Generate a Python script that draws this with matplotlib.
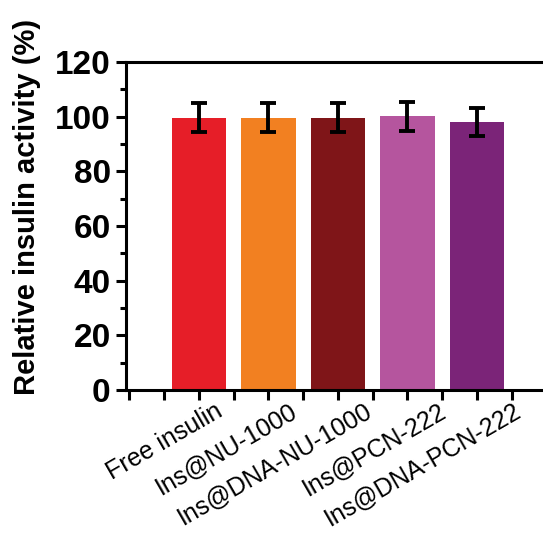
import numpy as np
import matplotlib.pyplot as plt
from matplotlib.ticker import MultipleLocator
import matplotlib.transforms as mtrans

plt.rcParams['font.family'] = ['Liberation Sans', 'DejaVu Sans']

groups = ["Free insulin", "Ins@NU-1000", "Ins@DNA-NU-1000", "Ins@PCN-222", "Ins@DNA-PCN-222"]
activity = [99.6, 99.6, 99.6, 100.1, 98.1]
errors = [5.3, 5.3, 5.3, 5.3, 5.2]
colors = ["#E61E28", "#F28021", "#7F1518", "#B5559E", "#7B2478"]

fig = plt.figure(figsize=(5.43, 5.35), dpi=100)
# the frame runs off the right edge of the picture (cropped figure)
ax = fig.add_axes([0.232, 0.271, 0.768, 0.613])

x = np.arange(1, len(groups) + 1)
ax.bar(x, activity, width=0.78, color=colors, edgecolor='none')
ax.errorbar(x, activity, yerr=errors, fmt='none', ecolor='black',
            elinewidth=2.8, capsize=5.5, capthick=2.8)

ax.set_xlim(-0.05, 5.95)
ax.set_ylim(0, 120)
ax.yaxis.set_major_locator(MultipleLocator(20))
ax.yaxis.set_minor_locator(MultipleLocator(10))
ax.set_xticks(x)
ax.set_xticks(np.arange(0, 5.6, 0.5), minor=True)

for s in ax.spines.values():
    s.set_linewidth(2.2)
ax.spines['right'].set_visible(False)

ax.tick_params(axis='y', which='major', length=7, width=2.2, labelsize=24, pad=4)
ax.tick_params(axis='y', which='minor', length=4, width=2.2)
ax.tick_params(axis='x', which='both', length=7, width=2.2)
for lab in ax.get_yticklabels():
    lab.set_fontweight('bold')

ax.set_xticklabels(groups, rotation=30, ha='right', va='top',
                   rotation_mode='anchor', fontsize=18)
# labels drift a little further right along the axis, as in the original
for i, lab in enumerate(ax.get_xticklabels()):
    shift = mtrans.ScaledTranslation((16 + 5 * i) / 100, 0.06, fig.dpi_scale_trans)
    lab.set_transform(lab.get_transform() + shift)

ax.set_ylabel("Relative insulin activity (%)", fontsize=21, fontweight='bold')
ax.yaxis.set_label_coords(-0.215 * 0.727 / 0.768, 0.557)

fig.savefig("out.png", dpi=100)
